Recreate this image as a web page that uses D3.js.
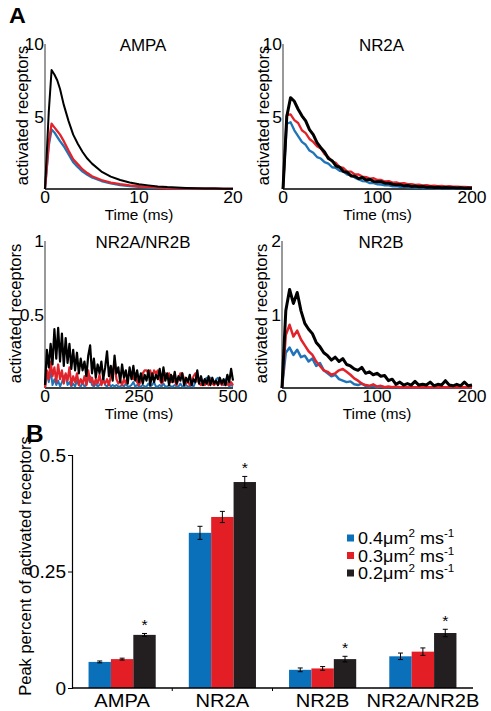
<!DOCTYPE html>
<html><head><meta charset="utf-8">
<script src="https://cdn.jsdelivr.net/npm/d3@7"></script>
<style>body{margin:0;background:#fff}svg{display:block}</style>
</head><body>
<svg id="c" width="491" height="711"></svg>
<script>
// ---------------- DATA ----------------
// Panel A traces (activated receptors vs time). Series: 0.4, 0.3, 0.2 um^2/ms
const ampaTime = [0,0.2,0.4,0.7,1.0,1.3,1.6,2.0,2.5,3.0,3.5,4.0,4.5,5.0,6,7,8,9,10,11,12,13,14,15,16,17,18,19,20];
const ampa04 = [0,1.5,3.0,4.1,3.9,3.6,3.3,2.95,2.4,1.85,1.5,1.2,0.98,0.8,0.55,0.38,0.27,0.2,0.14,0.1,0.08,0.06,0.05,0.04,0.03,0.02,0.02,0.01,0.01];
const ampa03 = [0,1.6,3.2,4.5,4.25,4.0,3.75,3.3,2.65,2.05,1.7,1.35,1.1,0.88,0.62,0.44,0.33,0.25,0.19,0.14,0.1,0.07,0.05,0.04,0.03,0.02,0.02,0.01,0.01];
const ampa02 = [0,2.6,5.3,8.2,7.9,7.5,6.9,5.8,4.7,3.75,3.1,2.55,2.1,1.75,1.2,0.85,0.62,0.45,0.33,0.25,0.18,0.13,0.1,0.07,0.05,0.04,0.03,0.02,0.02];

const nr2aStep = 4; // ms per sample, 0..200
const nr2a04 = [0,4.5,4.6,4.05,3.65,3.25,3.05,2.65,2.5,2.2,2.1,1.85,1.75,1.5,1.45,1.25,1.2,1.0,0.98,0.78,0.66,0.55,0.52,0.4,0.4,0.32,0.31,0.25,0.25,0.18,0.19,0.14,0.15,0.11,0.12,0.09,0.1,0.07,0.08,0.06,0.06,0.05,0.05,0.04,0.05,0.03,0.04,0.03,0.03,0.02,0.02];
const nr2a03 = [0,5.1,5.15,4.75,4.55,4.05,3.85,3.45,3.25,2.95,2.8,2.4,2.2,1.9,1.8,1.5,1.45,1.2,1.2,1.0,1.0,0.86,0.82,0.72,0.74,0.62,0.62,0.52,0.54,0.44,0.46,0.38,0.4,0.33,0.34,0.28,0.3,0.25,0.26,0.22,0.23,0.2,0.21,0.18,0.19,0.16,0.17,0.14,0.15,0.12,0.12];
const nr2a02 = [0,5.0,6.3,6.05,5.5,5.05,4.7,4.1,3.75,3.2,2.85,2.55,2.1,1.95,1.6,1.5,1.2,1.15,0.9,0.88,0.72,0.8,0.62,0.66,0.52,0.5,0.5,0.4,0.4,0.33,0.3,0.3,0.22,0.24,0.18,0.2,0.15,0.17,0.12,0.14,0.1,0.12,0.09,0.1,0.08,0.09,0.07,0.08,0.06,0.07,0.06];

const mixStep = 5; // ms per sample, 0..500
const mix04 = [0,0.1,0.04,0.12,0.02,0.06,0.02,0.05,0.01,0.04,0.08,0.09,0.02,0.04,0.01,0.03,0.01,0.05,0.02,0.01,0.04,0.01,0.02,0.06,0.08,0.02,0.01,0.03,0.01,0.02,0.04,0.07,0.02,0.01,0.03,0.01,0.02,0.01,0.02,0.01,0.01,0.02,0.01,0.03,0.01,0.01,0.02,0.04,0.01,0.02,0.01,0.01,0.02,0.01,0.01,0.03,0.01,0.02,0.04,0.01,0.01,0.02,0.01,0.03,0.01,0.01,0.02,0.01,0.01,0.02,0.01,0.01,0.03,0.01,0.01,0.02,0.01,0.01,0.02,0.01,0.04,0.07,0.05,0.07,0.02,0.06,0.07,0.03,0.07,0.05,0.02,0.06,0.07,0.03,0.05,0.02,0.06,0.03,0.01,0.02,0.01];
const mix03 = [0,0.12,0.06,0.18,0.08,0.14,0.04,0.16,0.06,0.12,0.03,0.1,0.05,0.14,0.02,0.08,0.04,0.1,0.02,0.06,0.03,0.08,0.02,0.12,0.04,0.07,0.02,0.06,0.03,0.09,0.02,0.05,0.03,0.06,0.02,0.08,0.12,0.17,0.06,0.03,0.05,0.02,0.06,0.03,0.08,0.1,0.1,0.06,0.1,0.04,0.02,0.05,0.1,0.12,0.12,0.1,0.12,0.06,0.12,0.1,0.12,0.06,0.03,0.05,0.1,0.08,0.1,0.04,0.08,0.05,0.02,0.06,0.1,0.1,0.06,0.03,0.05,0.02,0.04,0.08,0.1,0.06,0.03,0.02,0.05,0.02,0.04,0.02,0.06,0.03,0.02,0.04,0.02,0.05,0.02,0.04,0.02,0.03,0.02,0.04,0.02];
const mix02 = [0.02,0.26,0.14,0.3,0.16,0.4,0.2,0.41,0.18,0.37,0.15,0.34,0.17,0.3,0.13,0.26,0.12,0.24,0.1,0.2,0.12,0.18,0.08,0.22,0.29,0.1,0.2,0.07,0.16,0.1,0.18,0.06,0.14,0.25,0.08,0.15,0.05,0.22,0.1,0.14,0.04,0.16,0.07,0.12,0.03,0.14,0.06,0.15,0.05,0.12,0.04,0.1,0.03,0.09,0.05,0.12,0.02,0.1,0.04,0.09,0.06,0.13,0.04,0.14,0.05,0.1,0.02,0.09,0.04,0.11,0.03,0.08,0.05,0.1,0.02,0.07,0.04,0.09,0.02,0.06,0.04,0.12,0.03,0.08,0.02,0.06,0.03,0.08,0.02,0.07,0.03,0.05,0.02,0.07,0.03,0.06,0.02,0.09,0.04,0.13,0.05];

const nr2bStep = 4; // ms per sample, 0..200
const nr2b04 = [0,0.48,0.55,0.45,0.52,0.42,0.44,0.36,0.4,0.3,0.34,0.24,0.2,0.16,0.18,0.12,0.1,0.08,0.09,0.05,0.04,0.06,0.03,0.02,0.03,0.01,0.02,0.01,0.01,0.01,0.01,0.01,0.01,0.01,0.01,0.01,0.01,0.01,0.01,0.01,0.01,0.01,0.01,0.01,0.01,0.01,0.01,0.01,0.01,0.01,0.01];
const nr2b03 = [0,0.72,0.86,0.7,0.78,0.66,0.58,0.5,0.45,0.36,0.3,0.24,0.22,0.18,0.2,0.24,0.26,0.22,0.18,0.13,0.1,0.06,0.04,0.03,0.05,0.02,0.03,0.01,0.02,0.01,0.02,0.01,0.01,0.01,0.01,0.01,0.01,0.01,0.01,0.01,0.01,0.01,0.01,0.01,0.01,0.01,0.01,0.01,0.01,0.01,0.01];
const nr2b02 = [0,1.05,1.34,1.15,1.3,1.05,0.88,0.8,0.74,0.62,0.56,0.48,0.44,0.38,0.42,0.36,0.4,0.32,0.3,0.26,0.24,0.28,0.2,0.22,0.18,0.2,0.16,0.17,0.1,0.12,0.05,0.08,0.04,0.06,0.04,0.09,0.04,0.05,0.04,0.08,0.03,0.05,0.04,0.1,0.04,0.03,0.05,0.03,0.08,0.03,0.04];

// Panel B bar chart
const categories = ["AMPA", "NR2A", "NR2B", "NR2A/NR2B"];
const diffusionLabels = ["0.4", "0.3", "0.2"];
const peak04 = [0.056, 0.333, 0.039, 0.068];
const peak03 = [0.062, 0.367, 0.042, 0.078];
const peak02 = [0.114, 0.442, 0.062, 0.118];
const err04 = [0.002, 0.014, 0.004, 0.007];
const err03 = [0.002, 0.012, 0.004, 0.008];
const err02 = [0.003, 0.012, 0.006, 0.008];
const significant = [true, true, true, true];
const barTickValues = [0, 0.25, 0.5];
const barTickLabels = ["0", "0.25", "0.5"];

// ---------------- DRAWING ----------------
const FONT = "'Liberation Sans', Arial, Helvetica, sans-serif";
const SX = 1.06; // horizontal stretch of the original figure
const lineColors = ["#1f74b8", "#e2232a", "#000000"];
const barColors = ["#0a70b9", "#e31e25", "#231f20"];
const svg = d3.select("#c");
svg.append("rect").attr("width", 491).attr("height", 711).attr("fill", "#fff");

function text(g, x, y, s, size, anchor, weight) {
  return g.append("text")
    .attr("transform", `translate(${x},${y}) scale(${SX},1)`)
    .attr("font-family", FONT).attr("font-size", size)
    .attr("font-weight", weight || "normal")
    .attr("text-anchor", anchor || "middle").attr("fill", "#000").text(s);
}

text(svg, 9, 23, "A", 22, "start", "bold");
text(svg, 26, 442, "B", 23, "start", "bold");

function timeOf(arr, step) { return arr.map((_, i) => i * step); }

const panels = [
  { title: "AMPA", xr: [45, 233], yr: [189, 44], xd: [0, 20], yd: [0, 10], lab: 28,
    xTicks: [0, 10, 20], yTicks: [5, 10], series: [
      { t: ampaTime, v: ampa04, w: 2.3 }, { t: ampaTime, v: ampa03, w: 2.3 }, { t: ampaTime, v: ampa02, w: 2 }] },
  { title: "NR2A", xr: [283, 472], yr: [189, 44], xd: [0, 200], yd: [0, 10], lab: 269,
    xTicks: [0, 100, 200], yTicks: [5, 10], series: [
      { t: timeOf(nr2a04, nr2aStep), v: nr2a04, w: 2.3 }, { t: timeOf(nr2a03, nr2aStep), v: nr2a03, w: 2.3 }, { t: timeOf(nr2a02, nr2aStep), v: nr2a02, w: 3 }] },
  { title: "NR2A/NR2B", xr: [45, 233], yr: [388, 241], xd: [0, 500], yd: [0, 1], lab: 21,
    xTicks: [0, 250, 500], yTicks: [0.5, 1], series: [
      { t: timeOf(mix04, mixStep), v: mix04, w: 2 }, { t: timeOf(mix03, mixStep), v: mix03, w: 2.2 }, { t: timeOf(mix02, mixStep), v: mix02, w: 2.2 }] },
  { title: "NR2B", xr: [282, 472], yr: [388, 241], xd: [0, 200], yd: [0, 2], lab: 267,
    xTicks: [0, 100, 200], yTicks: [1, 2], series: [
      { t: timeOf(nr2b04, nr2bStep), v: nr2b04, w: 2.5 }, { t: timeOf(nr2b03, nr2bStep), v: nr2b03, w: 2.5 }, { t: timeOf(nr2b02, nr2bStep), v: nr2b02, w: 3 }] }
];

panels.forEach(p => {
  const g = svg.append("g");
  const x = d3.scaleLinear().domain(p.xd).range(p.xr);
  const y = d3.scaleLinear().domain(p.yd).range(p.yr);
  g.append("line").attr("x1", p.xr[0]).attr("x2", p.xr[0]).attr("y1", p.yr[1]).attr("y2", p.yr[0])
    .attr("stroke", "#555").attr("stroke-width", 1.2);
  g.append("line").attr("x1", p.xr[0]).attr("x2", p.xr[1]).attr("y1", p.yr[0]).attr("y2", p.yr[0])
    .attr("stroke", "#000").attr("stroke-width", 1.5);
  p.yTicks.forEach(v => text(g, p.xr[0] - 1, y(v) + 6, d3.format("")(v), 16.5, "end"));
  p.xTicks.forEach(v => text(g, x(v), p.yr[0] + 14, String(v), 16.5, "middle"));
  text(g, (p.xr[0] + p.xr[1]) / 2, p.yr[0] + 31, "Time (ms)", 14.5, "middle");
  text(g, (p.xr[0] + p.xr[1]) / 2 + 4, p.yr[1] + 7, p.title, 16, "middle");
  g.append("text").attr("transform", `translate(${p.lab},${(p.yr[0] + p.yr[1]) / 2 - 1}) rotate(-90)`)
    .attr("font-family", FONT).attr("font-size", 16.5).attr("text-anchor", "middle")
    .text("activated receptors");
  p.series.forEach((s, k) => {
    const line = d3.line().x((d, i) => x(s.t[i])).y(d => y(d));
    g.append("path").attr("d", line(s.v)).attr("fill", "none")
      .attr("stroke", lineColors[k]).attr("stroke-width", s.w)
      .attr("stroke-linejoin", "round");
  });
});

// ---- Bar chart ----
const gb = svg.append("g");
const bx = d3.scaleBand().domain(categories).range([72, 473]).paddingInner(0.33).paddingOuter(0.165);
const bs = d3.scaleBand().domain(diffusionLabels).range([0, bx.bandwidth()]);
const by = d3.scaleLinear().domain([0, 0.5]).range([688, 455]);
const peaks = [peak04, peak03, peak02];
const errs = [err04, err03, err02];

categories.forEach((c, ci) => {
  diffusionLabels.forEach((dl, si) => {
    const x0 = bx(c) + bs(dl), w = bs.bandwidth();
    const v = peaks[si][ci], e = errs[si][ci];
    gb.append("rect").attr("x", x0).attr("width", w).attr("y", by(v)).attr("height", by(0) - by(v))
      .attr("fill", barColors[si]);
    const cx = x0 + w / 2;
    gb.append("line").attr("x1", cx).attr("x2", cx).attr("y1", by(v + e)).attr("y2", by(v - e))
      .attr("stroke", "#000").attr("stroke-width", 1);
    [v + e, v - e].forEach(yy => gb.append("line").attr("x1", cx - 2.5).attr("x2", cx + 2.5)
      .attr("y1", by(yy)).attr("y2", by(yy)).attr("stroke", "#000").attr("stroke-width", 1));
    if (si === 2 && significant[ci]) text(gb, cx, by(v + e) - 3, "*", 15, "middle");
  });
});

const byAx = gb.append("g").attr("transform", "translate(72,0)")
  .call(d3.axisLeft(by).tickValues(barTickValues).tickSize(4).tickFormat(""));
byAx.select(".domain").attr("stroke", "#000").attr("stroke-width", 1.2);
byAx.selectAll(".tick line").attr("stroke", "#000");
barTickValues.forEach((v, i) => text(gb, 66, by(v) + 6.5, barTickLabels[i], 18, "end"));
gb.append("line").attr("x1", 72).attr("x2", 473).attr("y1", 688).attr("y2", 688)
  .attr("stroke", "#000").attr("stroke-width", 1.5);
[0, 1].forEach(i => {
  const xm = bx(categories[i]) + bx.bandwidth() + (bx.step() - bx.bandwidth()) / 2;
  gb.append("line").attr("x1", xm).attr("x2", xm).attr("y1", 688).attr("y2", 691).attr("stroke", "#000");
});
categories.forEach(c => text(gb, bx(c) + bx.bandwidth() / 2, 707, c, 19, "middle"));
gb.append("text").attr("transform", "translate(31,566) rotate(-90)")
  .attr("font-family", FONT).attr("font-size", 16.5).attr("text-anchor", "middle")
  .text("Peak percent of activated receptors");

const legY = [538, 555.5, 573];
diffusionLabels.forEach((dl, i) => {
  gb.append("rect").attr("x", 347).attr("y", legY[i] - 3.5).attr("width", 7).attr("height", 7).attr("fill", barColors[i]);
  const t = gb.append("text")
    .attr("transform", `translate(358,${legY[i] + 6}) scale(${SX},1)`)
    .attr("font-family", FONT).attr("font-size", 17);
  t.append("tspan").text(dl + "\u03bcm");
  t.append("tspan").attr("font-size", 11).attr("dy", -7).text("2");
  t.append("tspan").attr("dy", 7).text(" ms");
  t.append("tspan").attr("font-size", 11).attr("dy", -7).text("-1");
});
</script>
</body></html>
